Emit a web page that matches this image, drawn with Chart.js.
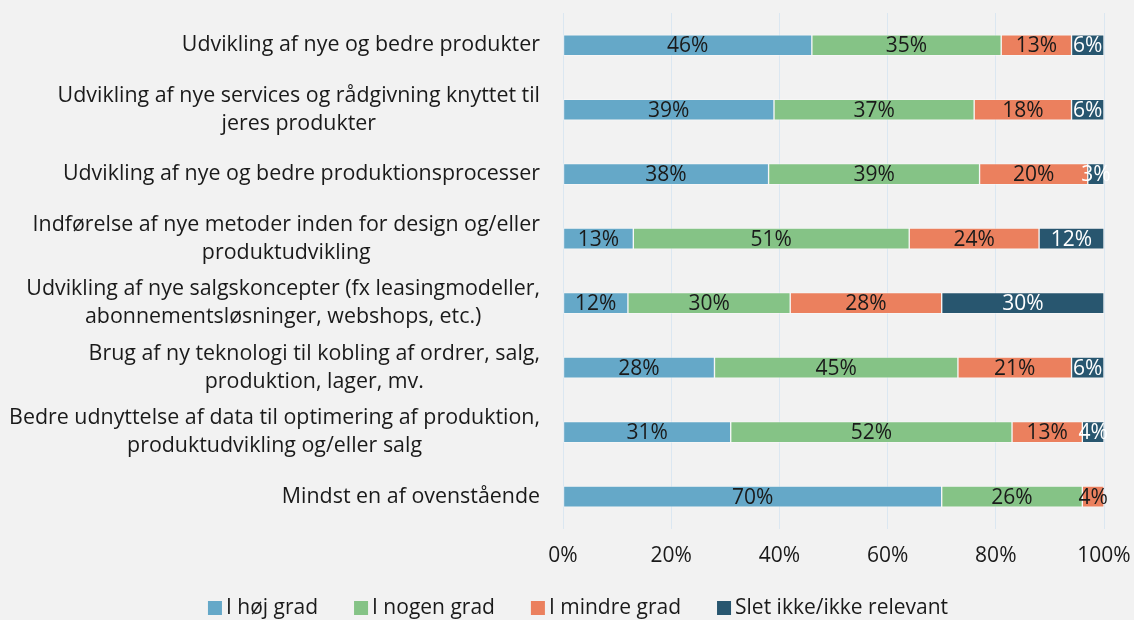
<!DOCTYPE html>
<html>
<head>
<meta charset="utf-8">
<script src="https://cdn.jsdelivr.net/npm/chart.js@4"></script>
<style>
  html, body { margin: 0; padding: 0; background: #f2f2f2; }
  #wrap { width: 1134px; height: 620px; }
</style>
</head>
<body>
<div id="wrap"><canvas id="chart"></canvas></div>
<script>
// Data
const categories = [
    ['Udvikling af nye og bedre produkter'],
    ['Udvikling af nye services og rådgivning knyttet til', 'jeres produkter'],
    ['Udvikling af nye og bedre produktionsprocesser'],
    ['Indførelse af nye metoder inden for design og/eller', 'produktudvikling'],
    ['Udvikling af nye salgskoncepter (fx leasingmodeller,', 'abonnementsløsninger, webshops, etc.)'],
    ['Brug af ny teknologi til kobling af ordrer, salg,', 'produktion, lager, mv.'],
    ['Bedre udnyttelse af data til optimering af produktion,', 'produktudvikling og/eller salg'],
    ['Mindst en af ovenstående']
];
const seriesNames = ['I høj grad', 'I nogen grad', 'I mindre grad', 'Slet ikke/ikke relevant'];
const hoejGrad    = [46, 39, 38, 13, 12, 28, 31, 70];
const nogenGrad   = [35, 37, 39, 51, 30, 45, 52, 26];
const mindreGrad  = [13, 18, 20, 24, 28, 21, 13, 4];
const sletIkke    = [6, 6, 3, 12, 30, 6, 4, 0];
const xTicks = [0, 20, 40, 60, 80, 100];

const COLORS = ['#65a8c8', '#85c386', '#eb805e', '#28566f'];
const LABEL_COLORS = ['#1a1a1a', '#1a1a1a', '#1a1a1a', '#ffffff'];
const FONT = '"Open Sans", sans-serif';
const FONT_SIZE = 21;
const LABEL_RIGHT = 540;
const LEGEND_Y = 608;
const LEGEND_CENTER = 578;

// Segment labels
const segmentLabels = {
    id: 'segmentLabels',
    afterDatasetsDraw(chart) {
        const ctx = chart.ctx;
        ctx.save();
        ctx.font = FONT_SIZE + 'px ' + FONT;
        ctx.textAlign = 'center';
        ctx.textBaseline = 'middle';
        chart.data.datasets.forEach((ds, di) => {
            const meta = chart.getDatasetMeta(di);
            meta.data.forEach((bar, i) => {
                const v = ds.data[i];
                if (!v) return;
                ctx.fillStyle = LABEL_COLORS[di];
                ctx.fillText(v + '%', (bar.x + bar.base) / 2, bar.y + 1);
            });
        });
        ctx.restore();
    }
};

// Category labels: block right-aligned, lines centred inside the block
const categoryLabels = {
    id: 'categoryLabels',
    afterDraw(chart) {
        const ctx = chart.ctx;
        const y = chart.scales.y;
        ctx.save();
        ctx.font = '21.4px ' + FONT;
        ctx.fillStyle = '#1a1a1a';
        ctx.textAlign = 'center';
        ctx.textBaseline = 'middle';
        const lh = 28;
        categories.forEach((lines, i) => {
            const cy = y.getPixelForValue(i);
            const w = Math.max(...lines.map(l => ctx.measureText(l).width));
            const cx = LABEL_RIGHT - w / 2;
            const top = cy - (lines.length - 1) * lh / 2;
            lines.forEach((l, j) => ctx.fillText(l, cx, top + j * lh));
        });
        ctx.restore();
    }
};

// Legend along the bottom, Excel style spacing
const bottomLegend = {
    id: 'bottomLegend',
    afterDraw(chart) {
        const ctx = chart.ctx;
        const box = 14, gap = 4, spacing = 36;
        ctx.save();
        ctx.font = FONT_SIZE + 'px ' + FONT;
        ctx.textBaseline = 'middle';
        ctx.textAlign = 'left';
        const widths = seriesNames.map(n => box + gap + ctx.measureText(n).width);
        const total = widths.reduce((a, b) => a + b, 0) + spacing * (widths.length - 1);
        let x = LEGEND_CENTER - total / 2;
        seriesNames.forEach((n, i) => {
            ctx.fillStyle = COLORS[i];
            ctx.fillRect(x, LEGEND_Y - box / 2, box, box);
            ctx.fillStyle = '#1a1a1a';
            ctx.fillText(n, x + box + gap, LEGEND_Y);
            x += widths[i] + spacing;
        });
        ctx.restore();
    }
};

const data = [hoejGrad, nogenGrad, mindreGrad, sletIkke];

new Chart(document.getElementById('chart'), {
    type: 'bar',
    data: {
        labels: categories.map(c => c.join(' ')),
        datasets: data.map((d, i) => ({
            label: seriesNames[i],
            data: d,
            backgroundColor: COLORS[i],
            borderColor: 'rgba(255,255,255,0.35)',
            borderWidth: 1,
            borderSkipped: false,
            barThickness: 21
        }))
    },
    options: {
        indexAxis: 'y',
        responsive: true,
        maintainAspectRatio: false,
        animation: false,
        layout: { padding: { top: 13, right: 30, bottom: 36, left: 0 } },
        scales: {
            x: {
                stacked: true,
                min: 0,
                max: 100,
                afterBuildTicks: s => { s.ticks = xTicks.map(v => ({ value: v })); },
                afterFit: s => { s.paddingRight = 0; s.paddingLeft = 0; },
                grid: { color: '#dbe7f1', drawTicks: false },
                border: { display: false },
                ticks: {
                    padding: 15,
                    color: '#1a1a1a',
                    font: { family: FONT, size: FONT_SIZE },
                    callback: v => v + '%'
                }
            },
            y: {
                stacked: true,
                grid: { display: false, drawTicks: false },
                border: { color: '#dbe7f1', width: 1 },
                ticks: { display: false },
                afterFit: s => { s.width = 563; }
            }
        },
        plugins: {
            legend: { display: false },
            tooltip: { enabled: false }
        }
    },
    plugins: [segmentLabels, categoryLabels, bottomLegend]
});
</script>
</body>
</html>
